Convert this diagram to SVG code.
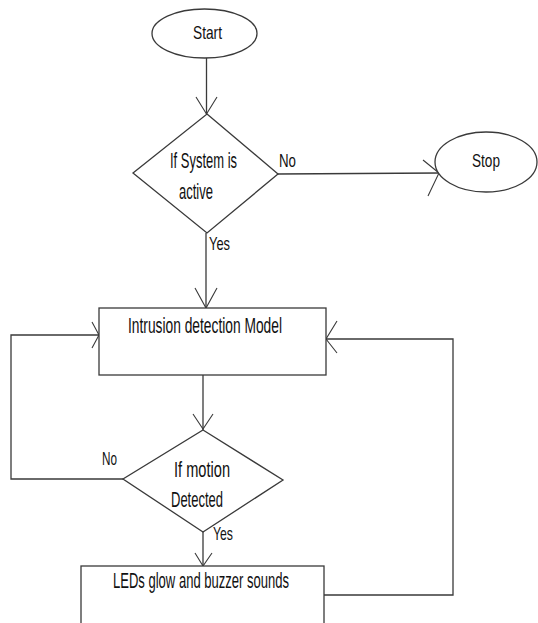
<svg xmlns="http://www.w3.org/2000/svg" width="538" height="623" viewBox="0 0 538 623">
<style>
.shape{fill:#fff;stroke:#3a3a3a;stroke-width:1.3}
.conn{fill:none;stroke:#3a3a3a;stroke-width:1.3}
.head{fill:none;stroke:#3a3a3a;stroke-width:1.1}
text{font-family:"Liberation Sans",Arial,sans-serif;fill:#111}
.s{font-size:19px}
.m{font-size:21.5px}
</style>
<rect width="538" height="623" fill="#fff"/>
<g id="connectors">
<line class="conn" x1="206.5" y1="58" x2="206.5" y2="114"/>
<polyline class="head" points="196,97 206.5,114 217,97"/>
<line class="conn" x1="278" y1="174" x2="439" y2="173"/>
<polyline class="head" points="423,160 439,173 428,196"/>
<line class="conn" x1="206" y1="233" x2="206" y2="308"/>
<polyline class="head" points="195,288 206,308 217,288"/>
<line class="conn" x1="203" y1="375" x2="203" y2="430"/>
<polyline class="head" points="193,414 203,429 213,414"/>
<polyline class="conn" points="123,479 11,479 11,335 99,335"/>
<polyline class="head" points="92,322 99,335 92,348"/>
<line class="conn" x1="203" y1="532" x2="203" y2="566"/>
<polyline class="head" points="195,553 203,566 212,553"/>
<polyline class="conn" points="324,595 453,595 453,339 326,339"/>
<polyline class="head" points="337,321 326,339 337,353"/>
<text class="s" x="279" y="167" textLength="17" lengthAdjust="spacingAndGlyphs">No</text>
<text class="s" x="209" y="250" textLength="21" lengthAdjust="spacingAndGlyphs">Yes</text>
<text class="s" x="102" y="465" textLength="15" lengthAdjust="spacingAndGlyphs">No</text>
<text class="s" x="213" y="540" textLength="20" lengthAdjust="spacingAndGlyphs">Yes</text>
</g>
<g id="start">
<ellipse class="shape" cx="204.5" cy="33.5" rx="52.5" ry="24.5"/>
<text class="s" x="193" y="39" textLength="29" lengthAdjust="spacingAndGlyphs">Start</text>
</g>
<g id="system-active">
<polygon class="shape" points="207,114 278,174 207,233 133,173"/>
<text class="m" x="170" y="168" textLength="67" lengthAdjust="spacingAndGlyphs">If System is</text>
<text class="m" x="179" y="199" textLength="34" lengthAdjust="spacingAndGlyphs">active</text>
</g>
<g id="stop">
<ellipse class="shape" cx="486" cy="162" rx="51" ry="30"/>
<text class="s" x="472" y="167" textLength="28" lengthAdjust="spacingAndGlyphs">Stop</text>
</g>
<g id="intrusion-model">
<rect class="shape" x="99" y="308" width="227" height="67"/>
<text class="m" x="128" y="333" textLength="154" lengthAdjust="spacingAndGlyphs">Intrusion detection Model</text>
</g>
<g id="motion-detected">
<polygon class="shape" points="203,430 283,480 203,532 123,479"/>
<text class="m" x="174" y="477" textLength="56" lengthAdjust="spacingAndGlyphs">If motion</text>
<text class="m" x="171" y="507" textLength="52" lengthAdjust="spacingAndGlyphs">Detected</text>
</g>
<g id="leds-buzzer">
<rect class="shape" x="81" y="566" width="243" height="70"/>
<text class="m" x="113" y="588" textLength="176" lengthAdjust="spacingAndGlyphs">LEDs glow and buzzer sounds</text>
</g>
</svg>
